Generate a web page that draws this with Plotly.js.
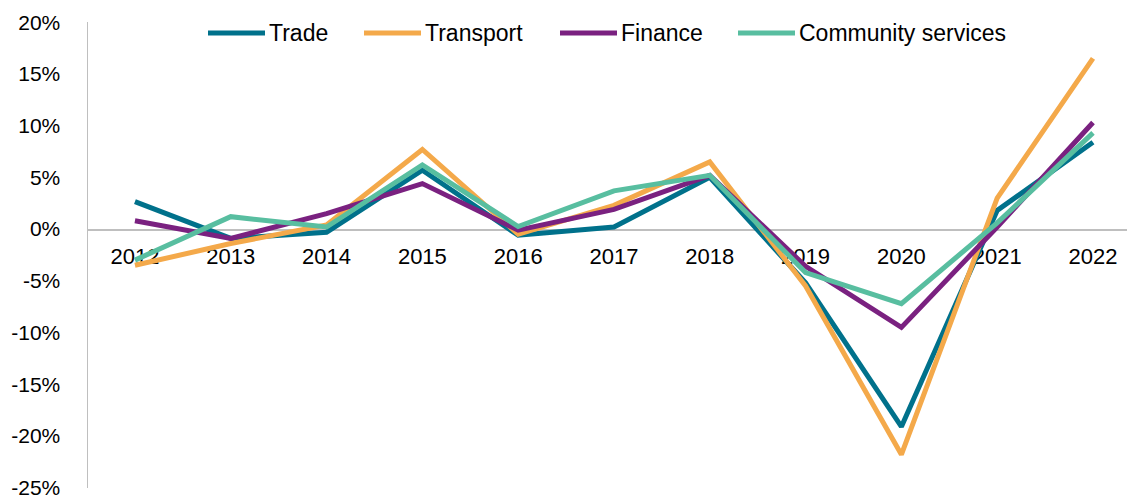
<!DOCTYPE html>
<html><head><meta charset="utf-8">
<script src="https://cdn.plot.ly/plotly-3.0.1.min.js"></script>
<style>html,body{margin:0;padding:0;background:#fff}#chart{width:1127px;height:498px}</style>
</head><body><div id="chart"></div>
<script>
const years = ['2012','2013','2014','2015','2016','2017','2018','2019','2020','2021','2022'];
const trade = [2.65, -0.9, -0.3, 5.7, -0.6, 0.2, 5.0, -5.2, -19.1, 1.8, 8.4];
const transport = [-3.5, -1.4, 0.4, 7.7, -0.5, 2.3, 6.5, -5.5, -21.8, 3.0, 16.5];
const finance = [0.8, -0.9, 1.5, 4.4, -0.1, 1.9, 5.2, -3.6, -9.5, 0.2, 10.3];
const community = [-3.0, 1.2, 0.2, 6.2, 0.25, 3.7, 5.2, -4.2, -7.2, 0.6, 9.3];
const seriesNames = ['Trade', 'Transport', 'Finance', 'Community services'];
const yTickVals = [-25, -20, -15, -10, -5, 0, 5, 10, 15, 20];
const yTickText = ['-25%', '-20%', '-15%', '-10%', '-5%', '0%', '5%', '10%', '15%', '20%'];

const seriesValues = [trade, transport, finance, community];
const colors = ['#00718b', '#f4a94a', '#7a2180', '#58bea0'];

const W = 1127, H = 498, ML = 88, MR = 0, MT = 22, MB = 10;
const PW = W - ML - MR, PH = H - MT - MB;
const px2x = px => (px - ML) / PW;
const py2y = py => (H - MB - py) / PH;

const data = seriesNames.map((n, i) => ({
  type: 'scatter', mode: 'lines', name: n, x: years, y: seriesValues[i],
  line: {color: colors[i], width: 5}, showlegend: false
}));

// custom legend (long line keys like the reference)
const legendStarts = [208, 364, 560, 738];
const keyLen = 57, legY = 33;
const shapes = [], annotations = [];
seriesNames.forEach((n, i) => {
  shapes.push({type: 'line', xref: 'paper', yref: 'paper',
    x0: px2x(legendStarts[i]), x1: px2x(legendStarts[i] + keyLen),
    y0: py2y(legY), y1: py2y(legY), line: {color: colors[i], width: 5}});
  annotations.push({xref: 'paper', yref: 'paper', x: px2x(legendStarts[i] + keyLen + 2), y: py2y(legY),
    xanchor: 'left', yanchor: 'middle', text: n, showarrow: false,
    font: {family: 'Liberation Sans, Arial, sans-serif', size: 23, color: '#000'}});
});

const layout = {
  width: W, height: H,
  margin: {l: ML, r: MR, t: MT, b: MB},
  paper_bgcolor: '#fff', plot_bgcolor: '#fff',
  font: {family: 'Liberation Sans, Arial, sans-serif', size: 21, color: '#000'},
  showlegend: false,
  shapes: shapes, annotations: annotations,
  xaxis: {type: 'category', range: [-0.49, 10.355], anchor: 'free', position: 0.5554,
          showline: true, linecolor: '#bfbfbf', linewidth: 1.5, showgrid: false, zeroline: false,
          ticks: '', ticklabelstandoff: 7, tickfont: {size: 22}, layer: 'below traces', fixedrange: true},
  yaxis: {range: [-25.03, 20.02], tickvals: yTickVals, ticktext: yTickText,
          showline: true, linecolor: '#bfbfbf', linewidth: 1.5, showgrid: false, zeroline: false,
          ticks: '', ticklabelstandoff: 22, tickfont: {size: 21}, ticklabeloverflow: 'allow',
          layer: 'below traces', fixedrange: true}
};
Plotly.newPlot('chart', data, layout, {displayModeBar: false, staticPlot: true});
</script></body></html>
